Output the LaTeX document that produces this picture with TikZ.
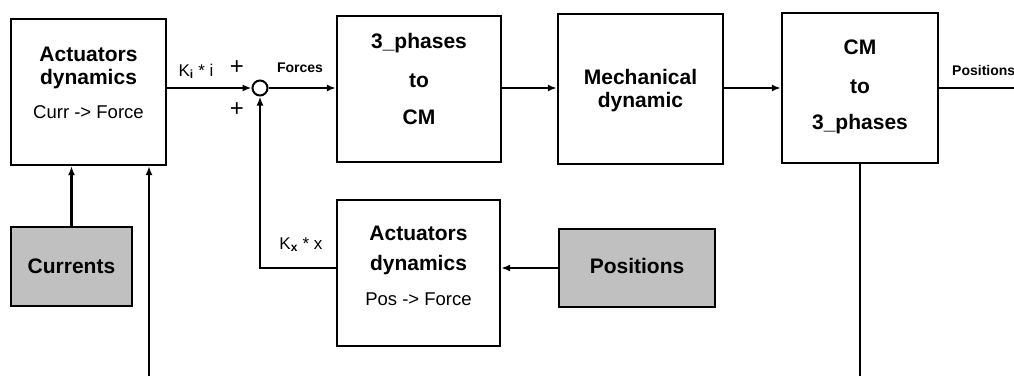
\documentclass[tikz,border=0pt]{standalone}
\usepackage{fontspec}
\setmainfont{Liberation Sans}
\usetikzlibrary{arrows.meta, positioning, calc}

\definecolor{srcgray}{RGB}{192,192,192}

\tikzset{
  blk/.style={draw, line width=2.3pt, inner sep=0pt},
  src/.style={blk, fill=srcgray},
  bt/.style={font=\fontsize{21}{25}\selectfont\bfseries, anchor=base, inner sep=0pt},
  st/.style={font=\fontsize{18.5}{21}\selectfont, anchor=base, inner sep=0pt},
  lb/.style={font=\fontsize{17}{19}\selectfont, anchor=base, inner sep=0pt},
  sl/.style={font=\fontsize{14}{16}\selectfont\bfseries, anchor=base, inner sep=0pt},
  wire/.style={line width=2.1pt},
}

\begin{document}
\begin{tikzpicture}[x=1pt, y=-1pt, >={Latex[length=9pt,width=7pt]}]
  \useasboundingbox (0,0) rectangle (1014,376);

  % blocks
  \node[blk, minimum width=155pt, minimum height=146pt] (act1) at (88.5,92) {};
  \node[blk, minimum width=164pt, minimum height=146pt] (tpcm) at (419,89) {};
  \node[blk, minimum width=165pt, minimum height=150pt] (mech) at (640.5,89) {};
  \node[blk, minimum width=156pt, minimum height=150pt] (cmtp) at (860,88) {};
  \node[blk, minimum width=163pt, minimum height=146pt] (act2) at (418.5,273) {};
  \node[src, minimum width=121pt, minimum height=79pt] (cur) at (71.5,266.5) {};
  \node[src, minimum width=156pt, minimum height=78pt] (pos) at (637,268) {};
  \node[circle, draw, line width=2pt, minimum size=15pt, inner sep=0pt] (sum) at (260,88) {};

  % block texts
  \node[bt] (act1a) at (88.5,61) {Actuators};
  \node[bt] (act1b) at (88.5,84) {dynamics};
  \node[st] (act1c) at (88.5,118) {Curr -> Force};
  \node[bt] (tpcma) at (419,48) {3\_phases};
  \node[bt] (tpcmb) at (419,87) {to};
  \node[bt] (tpcmc) at (419,124) {CM};
  \node[bt] (mecha) at (640.5,84) {Mechanical};
  \node[bt] (mechb) at (640.5,107) {dynamic};
  \node[bt] (cmtpa) at (860,54) {CM};
  \node[bt] (cmtpb) at (860,93) {to};
  \node[bt] (cmtpc) at (860,129) {3\_phases};
  \node[bt] (act2a) at (418.5,240) {Actuators};
  \node[bt] (act2b) at (418.5,270) {dynamics};
  \node[st] (act2c) at (418.5,305) {Pos -> Force};
  \node[bt] (cura) at (71.5,273) {Currents};
  \node[bt] (posa) at (637,273) {Positions};

  % signal labels
  \node[lb] (kilbl) at (196,76) {K\textsubscript{\textbf{i}} * i};
  \node[lb] (kxlbl) at (301,249) {K\textsubscript{\textbf{x}} * x};
  \node[font=\fontsize{24}{26}\selectfont, inner sep=0pt] (plusa) at (237,68) {+};
  \node[font=\fontsize{24}{26}\selectfont, inner sep=0pt] (plusb) at (237,110) {+};
  \node[sl] (forlbl) at (300,72) {Forces};
  \node[sl, anchor=base west] (poslbl) at (952,75) {Positions};

  % connections
  \coordinate (posend) at (1014,88);
  \coordinate (cmdown) at (860,376);
  \coordinate (curup) at (149,376);
  \draw[wire,->] (act1.east |- sum.west) -- (sum.west);
  \draw[wire,->] (sum.east) -- (sum.east -| tpcm.west);
  \draw[wire,->] (tpcm.east |- sum.east) -- (sum.east -| mech.west);
  \draw[wire,->] (mech.east |- sum.east) -- (sum.east -| cmtp.west);
  \draw[wire] (cmtp.east |- posend) -- (posend);
  \draw[wire] (cmtp.south) -- (cmdown);
  \draw[wire,->] (curup) -- (curup |- act1.south);
  \draw[wire,->] (cur.north) -- (cur.north |- act1.south);
  \draw[wire,->] (pos.west) -- (pos.west -| act2.east);
  \draw[wire,->] (act2.west |- pos.west) -| (sum.south);
\end{tikzpicture}
\end{document}
